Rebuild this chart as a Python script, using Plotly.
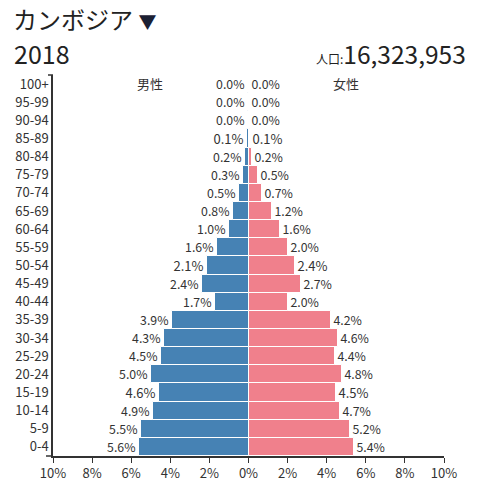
import plotly.graph_objects as go

ages = ["0-4", "5-9", "10-14", "15-19", "20-24", "25-29", "30-34", "35-39",
        "40-44", "45-49", "50-54", "55-59", "60-64", "65-69", "70-74",
        "75-79", "80-84", "85-89", "90-94", "95-99", "100+"]
male = [5.6, 5.5, 4.9, 4.6, 5.0, 4.5, 4.3, 3.9, 1.7, 2.4, 2.1, 1.6, 1.0,
        0.8, 0.5, 0.3, 0.2, 0.1, 0.03, 0.01, 0.005]
female = [5.4, 5.2, 4.7, 4.5, 4.8, 4.4, 4.6, 4.2, 2.0, 2.7, 2.4, 2.0, 1.6,
          1.2, 0.7, 0.5, 0.2, 0.1, 0.03, 0.01, 0.005]
ticks = [-10, -8, -6, -4, -2, 0, 2, 4, 6, 8, 10]
tick_labels = [f"{abs(t)}%" for t in ticks]

FONT = "Noto Sans CJK JP"
TXT = "#333333"
W, H = 480, 486
# plot area in window pixels: x 53..444, y 75..456
L, R, T, B = 53, 480 - 444, 75, 486 - 456


def px(x):
    return (x - L) / (W - L - R)


def py(y):
    return (H - B - y) / (H - T - B)


fig = go.Figure()
fig.add_trace(go.Bar(
    y=ages, x=[-v for v in male], orientation="h", name="男性",
    marker=dict(color="#4682b4", line=dict(color="white", width=1)),
    text=[f"{v:.1f}%" for v in male], textposition="outside",
    textfont=dict(size=13, color=TXT), cliponaxis=False,
))
fig.add_trace(go.Bar(
    y=ages, x=female, orientation="h", name="女性",
    marker=dict(color="#f0808c", line=dict(color="white", width=1)),
    text=[f"{v:.1f}%" for v in female], textposition="outside",
    textfont=dict(size=13, color=TXT), cliponaxis=False,
))

fig.update_layout(
    width=W, height=H,
    margin=dict(l=L, r=R, t=T, b=B),
    paper_bgcolor="white", plot_bgcolor="white",
    barmode="overlay", bargap=0,
    showlegend=False,
    font=dict(family=FONT, color=TXT, size=13),
    title=dict(
        text="カンボジア <span style='color:#1b2033;font-size:18px'>▼</span>",
        x=13 / W, xanchor="left", y=1 - 21 / H,
        yanchor="middle",
        font=dict(size=24, color="#222222", family=FONT),
        automargin=False,
    ),
    xaxis=dict(
        range=[-10, 10], tickvals=ticks, ticktext=tick_labels,
        showgrid=False, zeroline=False, showline=True,
        linecolor="#333333", linewidth=1.5, automargin=False,
        ticks="outside", ticklen=5, tickcolor="#333333",
        tickfont=dict(size=13, color=TXT),
    ),
    yaxis=dict(
        categoryorder="array", categoryarray=ages,
        showgrid=False, zeroline=False, showline=True,
        linecolor="#333333", linewidth=1.5, ticks="", automargin=False,
        tickfont=dict(size=13, color=TXT),
    ),
)

fig.add_annotation(text="2018", xref="paper", yref="paper",
                   x=px(12), y=py(53), xanchor="left", yanchor="middle",
                   showarrow=False, font=dict(size=25, color="#222222"))
fig.add_annotation(text="<span style='font-size:12px'>人口:</span>16,323,953",
                   xref="paper", yref="paper",
                   x=px(468), y=py(53), xanchor="right", yanchor="middle",
                   showarrow=False, font=dict(size=24.5, color="#222222"))
fig.add_annotation(text="男性", xref="paper", yref="paper",
                   x=px(150), y=py(84), xanchor="center", yanchor="middle",
                   showarrow=False, font=dict(size=13, color=TXT))
fig.add_annotation(text="女性", xref="paper", yref="paper",
                   x=px(346), y=py(84), xanchor="center", yanchor="middle",
                   showarrow=False, font=dict(size=13, color=TXT))

# little end marks on the axes
fig.add_shape(type="line", xref="paper", yref="paper",
              x0=px(48), x1=0, y0=1, y1=1,
              line=dict(color="#333333", width=1.5))
fig.add_shape(type="line", xref="paper", yref="paper",
              x0=px(46), x1=0, y0=0, y1=0,
              line=dict(color="#333333", width=1.5))

# drop the default page margin so the figure fills the window
fig.write_html("out.html", config={"displayModeBar": False},
               post_script="document.body.style.margin='0';")
